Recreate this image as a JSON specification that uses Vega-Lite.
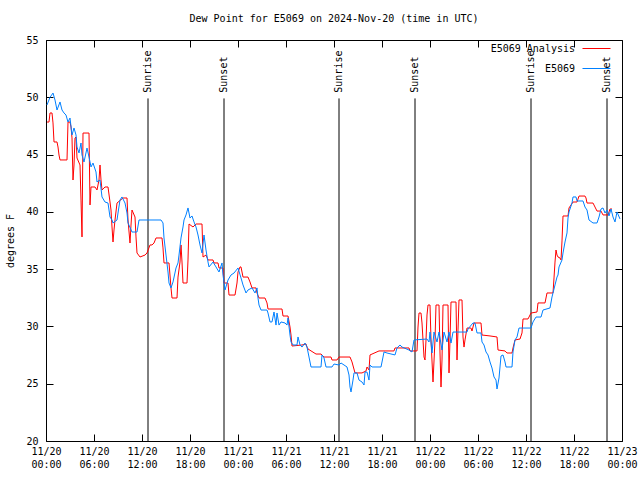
{
  "$schema": "https://vega.github.io/schema/vega-lite/v6.json",
  "width": 576,
  "height": 401,
  "autosize": {"type": "none"},
  "padding": {"left": 46, "top": 40, "right": 18, "bottom": 39},
  "background": "white",
  "title": {"text": "Dew Point for E5069 on 2024-Nov-20 (time in UTC)", "font": "DejaVu Sans Mono", "fontSize": 10, "fontWeight": "normal", "color": "black", "anchor": "middle", "offset": 10},
  "config": {"view": {"stroke": "black", "strokeWidth": 1}, "font": "DejaVu Sans Mono"},
  "datasets": {
    "sun": [
      {"event": "Sunrise", "time": "2024-11-20T12:45:00Z"},
      {"event": "Sunset", "time": "2024-11-20T22:15:00Z"},
      {"event": "Sunrise", "time": "2024-11-21T12:37:30Z"},
      {"event": "Sunset", "time": "2024-11-21T22:07:30Z"},
      {"event": "Sunrise", "time": "2024-11-22T12:37:30Z"},
      {"event": "Sunset", "time": "2024-11-22T22:07:30Z"}
    ],
    "obs": [
      {"series": "E5069 Analysis", "time": "2024-11-20T00:07:30Z", "value": 47.84},
      {"series": "E5069 Analysis", "time": "2024-11-20T00:22:30Z", "value": 47.84},
      {"series": "E5069 Analysis", "time": "2024-11-20T00:30:00Z", "value": 48.63},
      {"series": "E5069 Analysis", "time": "2024-11-20T00:45:00Z", "value": 48.63},
      {"series": "E5069 Analysis", "time": "2024-11-20T00:52:30Z", "value": 47.76},
      {"series": "E5069 Analysis", "time": "2024-11-20T01:00:00Z", "value": 46.10},
      {"series": "E5069 Analysis", "time": "2024-11-20T01:22:30Z", "value": 46.10},
      {"series": "E5069 Analysis", "time": "2024-11-20T01:30:00Z", "value": 45.66},
      {"series": "E5069 Analysis", "time": "2024-11-20T01:37:30Z", "value": 44.96},
      {"series": "E5069 Analysis", "time": "2024-11-20T01:45:00Z", "value": 44.53},
      {"series": "E5069 Analysis", "time": "2024-11-20T02:37:30Z", "value": 44.53},
      {"series": "E5069 Analysis", "time": "2024-11-20T02:45:00Z", "value": 47.84},
      {"series": "E5069 Analysis", "time": "2024-11-20T03:00:00Z", "value": 47.84},
      {"series": "E5069 Analysis", "time": "2024-11-20T03:07:30Z", "value": 47.41},
      {"series": "E5069 Analysis", "time": "2024-11-20T03:15:00Z", "value": 46.45},
      {"series": "E5069 Analysis", "time": "2024-11-20T03:22:30Z", "value": 42.78},
      {"series": "E5069 Analysis", "time": "2024-11-20T03:30:00Z", "value": 44.09},
      {"series": "E5069 Analysis", "time": "2024-11-20T03:37:30Z", "value": 46.45},
      {"series": "E5069 Analysis", "time": "2024-11-20T03:45:00Z", "value": 46.53},
      {"series": "E5069 Analysis", "time": "2024-11-20T03:52:30Z", "value": 44.70},
      {"series": "E5069 Analysis", "time": "2024-11-20T04:15:00Z", "value": 44.09},
      {"series": "E5069 Analysis", "time": "2024-11-20T04:22:30Z", "value": 41.03},
      {"series": "E5069 Analysis", "time": "2024-11-20T04:30:00Z", "value": 37.81},
      {"series": "E5069 Analysis", "time": "2024-11-20T04:37:30Z", "value": 46.88},
      {"series": "E5069 Analysis", "time": "2024-11-20T05:22:30Z", "value": 46.88},
      {"series": "E5069 Analysis", "time": "2024-11-20T05:30:00Z", "value": 40.60},
      {"series": "E5069 Analysis", "time": "2024-11-20T05:37:30Z", "value": 42.17},
      {"series": "E5069 Analysis", "time": "2024-11-20T06:07:30Z", "value": 42.17},
      {"series": "E5069 Analysis", "time": "2024-11-20T06:22:30Z", "value": 41.91},
      {"series": "E5069 Analysis", "time": "2024-11-20T06:37:30Z", "value": 42.78},
      {"series": "E5069 Analysis", "time": "2024-11-20T06:45:00Z", "value": 44.09},
      {"series": "E5069 Analysis", "time": "2024-11-20T06:52:30Z", "value": 42.78},
      {"series": "E5069 Analysis", "time": "2024-11-20T07:00:00Z", "value": 41.91},
      {"series": "E5069 Analysis", "time": "2024-11-20T07:22:30Z", "value": 42.17},
      {"series": "E5069 Analysis", "time": "2024-11-20T07:45:00Z", "value": 42.17},
      {"series": "E5069 Analysis", "time": "2024-11-20T08:00:00Z", "value": 40.86},
      {"series": "E5069 Analysis", "time": "2024-11-20T08:07:30Z", "value": 40.16},
      {"series": "E5069 Analysis", "time": "2024-11-20T08:15:00Z", "value": 38.68},
      {"series": "E5069 Analysis", "time": "2024-11-20T08:22:30Z", "value": 37.37},
      {"series": "E5069 Analysis", "time": "2024-11-20T08:30:00Z", "value": 38.42},
      {"series": "E5069 Analysis", "time": "2024-11-20T08:37:30Z", "value": 39.29},
      {"series": "E5069 Analysis", "time": "2024-11-20T08:52:30Z", "value": 40.77},
      {"series": "E5069 Analysis", "time": "2024-11-20T09:37:30Z", "value": 41.21},
      {"series": "E5069 Analysis", "time": "2024-11-20T10:07:30Z", "value": 41.21},
      {"series": "E5069 Analysis", "time": "2024-11-20T10:15:00Z", "value": 39.29},
      {"series": "E5069 Analysis", "time": "2024-11-20T10:30:00Z", "value": 37.28},
      {"series": "E5069 Analysis", "time": "2024-11-20T10:37:30Z", "value": 38.85},
      {"series": "E5069 Analysis", "time": "2024-11-20T10:45:00Z", "value": 40.16},
      {"series": "E5069 Analysis", "time": "2024-11-20T11:07:30Z", "value": 39.55},
      {"series": "E5069 Analysis", "time": "2024-11-20T11:15:00Z", "value": 37.81},
      {"series": "E5069 Analysis", "time": "2024-11-20T11:22:30Z", "value": 36.41},
      {"series": "E5069 Analysis", "time": "2024-11-20T11:45:00Z", "value": 36.06},
      {"series": "E5069 Analysis", "time": "2024-11-20T12:22:30Z", "value": 36.23},
      {"series": "E5069 Analysis", "time": "2024-11-20T12:37:30Z", "value": 36.41},
      {"series": "E5069 Analysis", "time": "2024-11-20T13:00:00Z", "value": 37.11},
      {"series": "E5069 Analysis", "time": "2024-11-20T13:15:00Z", "value": 37.11},
      {"series": "E5069 Analysis", "time": "2024-11-20T13:30:00Z", "value": 37.28},
      {"series": "E5069 Analysis", "time": "2024-11-20T13:45:00Z", "value": 37.72},
      {"series": "E5069 Analysis", "time": "2024-11-20T14:30:00Z", "value": 37.72},
      {"series": "E5069 Analysis", "time": "2024-11-20T14:37:30Z", "value": 36.85},
      {"series": "E5069 Analysis", "time": "2024-11-20T14:45:00Z", "value": 35.54},
      {"series": "E5069 Analysis", "time": "2024-11-20T15:22:30Z", "value": 35.54},
      {"series": "E5069 Analysis", "time": "2024-11-20T15:37:30Z", "value": 33.36},
      {"series": "E5069 Analysis", "time": "2024-11-20T15:45:00Z", "value": 32.48},
      {"series": "E5069 Analysis", "time": "2024-11-20T16:22:30Z", "value": 32.48},
      {"series": "E5069 Analysis", "time": "2024-11-20T16:30:00Z", "value": 34.31},
      {"series": "E5069 Analysis", "time": "2024-11-20T16:45:00Z", "value": 35.62},
      {"series": "E5069 Analysis", "time": "2024-11-20T16:52:30Z", "value": 37.11},
      {"series": "E5069 Analysis", "time": "2024-11-20T17:00:00Z", "value": 35.62},
      {"series": "E5069 Analysis", "time": "2024-11-20T17:07:30Z", "value": 33.79},
      {"series": "E5069 Analysis", "time": "2024-11-20T17:37:30Z", "value": 33.79},
      {"series": "E5069 Analysis", "time": "2024-11-20T17:45:00Z", "value": 35.80},
      {"series": "E5069 Analysis", "time": "2024-11-20T17:52:30Z", "value": 38.94},
      {"series": "E5069 Analysis", "time": "2024-11-20T18:22:30Z", "value": 38.68},
      {"series": "E5069 Analysis", "time": "2024-11-20T18:45:00Z", "value": 38.94},
      {"series": "E5069 Analysis", "time": "2024-11-20T19:30:00Z", "value": 38.94},
      {"series": "E5069 Analysis", "time": "2024-11-20T19:37:30Z", "value": 36.06},
      {"series": "E5069 Analysis", "time": "2024-11-20T20:00:00Z", "value": 36.23},
      {"series": "E5069 Analysis", "time": "2024-11-20T20:15:00Z", "value": 35.80},
      {"series": "E5069 Analysis", "time": "2024-11-20T20:52:30Z", "value": 35.80},
      {"series": "E5069 Analysis", "time": "2024-11-20T21:00:00Z", "value": 35.54},
      {"series": "E5069 Analysis", "time": "2024-11-20T21:30:00Z", "value": 35.54},
      {"series": "E5069 Analysis", "time": "2024-11-20T21:37:30Z", "value": 35.10},
      {"series": "E5069 Analysis", "time": "2024-11-20T22:07:30Z", "value": 35.10},
      {"series": "E5069 Analysis", "time": "2024-11-20T22:15:00Z", "value": 33.79},
      {"series": "E5069 Analysis", "time": "2024-11-20T22:45:00Z", "value": 33.79},
      {"series": "E5069 Analysis", "time": "2024-11-20T22:52:30Z", "value": 32.74},
      {"series": "E5069 Analysis", "time": "2024-11-20T23:37:30Z", "value": 32.74},
      {"series": "E5069 Analysis", "time": "2024-11-20T23:52:30Z", "value": 33.79},
      {"series": "E5069 Analysis", "time": "2024-11-21T00:00:00Z", "value": 34.75},
      {"series": "E5069 Analysis", "time": "2024-11-21T00:15:00Z", "value": 35.19},
      {"series": "E5069 Analysis", "time": "2024-11-21T00:22:30Z", "value": 35.19},
      {"series": "E5069 Analysis", "time": "2024-11-21T00:37:30Z", "value": 34.31},
      {"series": "E5069 Analysis", "time": "2024-11-21T01:15:00Z", "value": 34.31},
      {"series": "E5069 Analysis", "time": "2024-11-21T01:30:00Z", "value": 33.88},
      {"series": "E5069 Analysis", "time": "2024-11-21T01:45:00Z", "value": 33.36},
      {"series": "E5069 Analysis", "time": "2024-11-21T02:15:00Z", "value": 33.36},
      {"series": "E5069 Analysis", "time": "2024-11-21T02:22:30Z", "value": 32.92},
      {"series": "E5069 Analysis", "time": "2024-11-21T02:37:30Z", "value": 32.48},
      {"series": "E5069 Analysis", "time": "2024-11-21T03:22:30Z", "value": 32.48},
      {"series": "E5069 Analysis", "time": "2024-11-21T03:37:30Z", "value": 32.05},
      {"series": "E5069 Analysis", "time": "2024-11-21T03:45:00Z", "value": 31.52},
      {"series": "E5069 Analysis", "time": "2024-11-21T05:30:00Z", "value": 31.52},
      {"series": "E5069 Analysis", "time": "2024-11-21T05:37:30Z", "value": 30.91},
      {"series": "E5069 Analysis", "time": "2024-11-21T06:15:00Z", "value": 30.91},
      {"series": "E5069 Analysis", "time": "2024-11-21T06:30:00Z", "value": 29.95},
      {"series": "E5069 Analysis", "time": "2024-11-21T06:37:30Z", "value": 29.25},
      {"series": "E5069 Analysis", "time": "2024-11-21T06:45:00Z", "value": 28.29},
      {"series": "E5069 Analysis", "time": "2024-11-21T08:00:00Z", "value": 28.38},
      {"series": "E5069 Analysis", "time": "2024-11-21T08:30:00Z", "value": 28.47},
      {"series": "E5069 Analysis", "time": "2024-11-21T08:37:30Z", "value": 28.20},
      {"series": "E5069 Analysis", "time": "2024-11-21T08:45:00Z", "value": 28.03},
      {"series": "E5069 Analysis", "time": "2024-11-21T09:45:00Z", "value": 27.59},
      {"series": "E5069 Analysis", "time": "2024-11-21T10:22:30Z", "value": 27.59},
      {"series": "E5069 Analysis", "time": "2024-11-21T10:45:00Z", "value": 27.33},
      {"series": "E5069 Analysis", "time": "2024-11-21T11:37:30Z", "value": 27.33},
      {"series": "E5069 Analysis", "time": "2024-11-21T11:45:00Z", "value": 27.07},
      {"series": "E5069 Analysis", "time": "2024-11-21T12:22:30Z", "value": 27.07},
      {"series": "E5069 Analysis", "time": "2024-11-21T12:37:30Z", "value": 27.33},
      {"series": "E5069 Analysis", "time": "2024-11-21T14:00:00Z", "value": 27.33},
      {"series": "E5069 Analysis", "time": "2024-11-21T14:15:00Z", "value": 26.90},
      {"series": "E5069 Analysis", "time": "2024-11-21T14:37:30Z", "value": 25.94},
      {"series": "E5069 Analysis", "time": "2024-11-21T15:30:00Z", "value": 25.94},
      {"series": "E5069 Analysis", "time": "2024-11-21T16:00:00Z", "value": 26.11},
      {"series": "E5069 Analysis", "time": "2024-11-21T16:07:30Z", "value": 26.46},
      {"series": "E5069 Analysis", "time": "2024-11-21T16:22:30Z", "value": 26.20},
      {"series": "E5069 Analysis", "time": "2024-11-21T16:30:00Z", "value": 27.51},
      {"series": "E5069 Analysis", "time": "2024-11-21T17:37:30Z", "value": 27.86},
      {"series": "E5069 Analysis", "time": "2024-11-21T19:30:00Z", "value": 27.86},
      {"series": "E5069 Analysis", "time": "2024-11-21T19:37:30Z", "value": 28.12},
      {"series": "E5069 Analysis", "time": "2024-11-21T21:22:30Z", "value": 28.12},
      {"series": "E5069 Analysis", "time": "2024-11-21T21:30:00Z", "value": 27.86},
      {"series": "E5069 Analysis", "time": "2024-11-21T22:22:30Z", "value": 27.86},
      {"series": "E5069 Analysis", "time": "2024-11-21T22:30:00Z", "value": 29.95},
      {"series": "E5069 Analysis", "time": "2024-11-21T22:37:30Z", "value": 31.17},
      {"series": "E5069 Analysis", "time": "2024-11-21T22:52:30Z", "value": 31.17},
      {"series": "E5069 Analysis", "time": "2024-11-21T23:00:00Z", "value": 30.30},
      {"series": "E5069 Analysis", "time": "2024-11-21T23:15:00Z", "value": 27.33},
      {"series": "E5069 Analysis", "time": "2024-11-21T23:22:30Z", "value": 27.07},
      {"series": "E5069 Analysis", "time": "2024-11-21T23:30:00Z", "value": 28.82},
      {"series": "E5069 Analysis", "time": "2024-11-21T23:37:30Z", "value": 31.00},
      {"series": "E5069 Analysis", "time": "2024-11-21T23:45:00Z", "value": 31.87},
      {"series": "E5069 Analysis", "time": "2024-11-22T00:00:00Z", "value": 31.87},
      {"series": "E5069 Analysis", "time": "2024-11-22T00:07:30Z", "value": 28.82},
      {"series": "E5069 Analysis", "time": "2024-11-22T00:22:30Z", "value": 25.15},
      {"series": "E5069 Analysis", "time": "2024-11-22T00:37:30Z", "value": 28.82},
      {"series": "E5069 Analysis", "time": "2024-11-22T00:45:00Z", "value": 31.87},
      {"series": "E5069 Analysis", "time": "2024-11-22T01:07:30Z", "value": 31.87},
      {"series": "E5069 Analysis", "time": "2024-11-22T01:15:00Z", "value": 27.68},
      {"series": "E5069 Analysis", "time": "2024-11-22T01:22:30Z", "value": 24.71},
      {"series": "E5069 Analysis", "time": "2024-11-22T01:30:00Z", "value": 27.07},
      {"series": "E5069 Analysis", "time": "2024-11-22T01:37:30Z", "value": 31.87},
      {"series": "E5069 Analysis", "time": "2024-11-22T02:15:00Z", "value": 31.87},
      {"series": "E5069 Analysis", "time": "2024-11-22T02:22:30Z", "value": 25.94},
      {"series": "E5069 Analysis", "time": "2024-11-22T02:30:00Z", "value": 28.82},
      {"series": "E5069 Analysis", "time": "2024-11-22T02:37:30Z", "value": 32.13},
      {"series": "E5069 Analysis", "time": "2024-11-22T03:15:00Z", "value": 32.13},
      {"series": "E5069 Analysis", "time": "2024-11-22T03:22:30Z", "value": 27.07},
      {"series": "E5069 Analysis", "time": "2024-11-22T03:30:00Z", "value": 29.69},
      {"series": "E5069 Analysis", "time": "2024-11-22T03:37:30Z", "value": 32.31},
      {"series": "E5069 Analysis", "time": "2024-11-22T04:00:00Z", "value": 32.31},
      {"series": "E5069 Analysis", "time": "2024-11-22T04:07:30Z", "value": 29.08},
      {"series": "E5069 Analysis", "time": "2024-11-22T04:15:00Z", "value": 28.20},
      {"series": "E5069 Analysis", "time": "2024-11-22T04:22:30Z", "value": 28.82},
      {"series": "E5069 Analysis", "time": "2024-11-22T04:37:30Z", "value": 29.86},
      {"series": "E5069 Analysis", "time": "2024-11-22T05:07:30Z", "value": 29.86},
      {"series": "E5069 Analysis", "time": "2024-11-22T05:15:00Z", "value": 29.60},
      {"series": "E5069 Analysis", "time": "2024-11-22T05:30:00Z", "value": 30.30},
      {"series": "E5069 Analysis", "time": "2024-11-22T06:22:30Z", "value": 30.30},
      {"series": "E5069 Analysis", "time": "2024-11-22T06:30:00Z", "value": 29.25},
      {"series": "E5069 Analysis", "time": "2024-11-22T07:30:00Z", "value": 29.17},
      {"series": "E5069 Analysis", "time": "2024-11-22T08:22:30Z", "value": 29.08},
      {"series": "E5069 Analysis", "time": "2024-11-22T08:30:00Z", "value": 27.94},
      {"series": "E5069 Analysis", "time": "2024-11-22T09:22:30Z", "value": 27.86},
      {"series": "E5069 Analysis", "time": "2024-11-22T09:37:30Z", "value": 27.68},
      {"series": "E5069 Analysis", "time": "2024-11-22T10:15:00Z", "value": 27.68},
      {"series": "E5069 Analysis", "time": "2024-11-22T10:22:30Z", "value": 28.12},
      {"series": "E5069 Analysis", "time": "2024-11-22T10:37:30Z", "value": 28.82},
      {"series": "E5069 Analysis", "time": "2024-11-22T11:15:00Z", "value": 28.90},
      {"series": "E5069 Analysis", "time": "2024-11-22T11:30:00Z", "value": 29.43},
      {"series": "E5069 Analysis", "time": "2024-11-22T11:37:30Z", "value": 30.65},
      {"series": "E5069 Analysis", "time": "2024-11-22T12:15:00Z", "value": 30.65},
      {"series": "E5069 Analysis", "time": "2024-11-22T12:22:30Z", "value": 30.82},
      {"series": "E5069 Analysis", "time": "2024-11-22T12:37:30Z", "value": 31.17},
      {"series": "E5069 Analysis", "time": "2024-11-22T13:22:30Z", "value": 31.26},
      {"series": "E5069 Analysis", "time": "2024-11-22T13:30:00Z", "value": 32.05},
      {"series": "E5069 Analysis", "time": "2024-11-22T14:22:30Z", "value": 32.05},
      {"series": "E5069 Analysis", "time": "2024-11-22T14:37:30Z", "value": 32.92},
      {"series": "E5069 Analysis", "time": "2024-11-22T15:22:30Z", "value": 32.92},
      {"series": "E5069 Analysis", "time": "2024-11-22T15:30:00Z", "value": 34.23},
      {"series": "E5069 Analysis", "time": "2024-11-22T15:37:30Z", "value": 35.62},
      {"series": "E5069 Analysis", "time": "2024-11-22T15:45:00Z", "value": 36.67},
      {"series": "E5069 Analysis", "time": "2024-11-22T15:52:30Z", "value": 36.23},
      {"series": "E5069 Analysis", "time": "2024-11-22T16:00:00Z", "value": 36.06},
      {"series": "E5069 Analysis", "time": "2024-11-22T16:15:00Z", "value": 35.97},
      {"series": "E5069 Analysis", "time": "2024-11-22T16:22:30Z", "value": 35.80},
      {"series": "E5069 Analysis", "time": "2024-11-22T16:30:00Z", "value": 37.46},
      {"series": "E5069 Analysis", "time": "2024-11-22T16:37:30Z", "value": 39.64},
      {"series": "E5069 Analysis", "time": "2024-11-22T17:15:00Z", "value": 39.64},
      {"series": "E5069 Analysis", "time": "2024-11-22T17:22:30Z", "value": 40.34},
      {"series": "E5069 Analysis", "time": "2024-11-22T17:37:30Z", "value": 40.60},
      {"series": "E5069 Analysis", "time": "2024-11-22T17:52:30Z", "value": 40.86},
      {"series": "E5069 Analysis", "time": "2024-11-22T18:22:30Z", "value": 40.86},
      {"series": "E5069 Analysis", "time": "2024-11-22T18:30:00Z", "value": 41.12},
      {"series": "E5069 Analysis", "time": "2024-11-22T18:37:30Z", "value": 41.38},
      {"series": "E5069 Analysis", "time": "2024-11-22T19:22:30Z", "value": 41.38},
      {"series": "E5069 Analysis", "time": "2024-11-22T19:30:00Z", "value": 41.21},
      {"series": "E5069 Analysis", "time": "2024-11-22T19:37:30Z", "value": 40.77},
      {"series": "E5069 Analysis", "time": "2024-11-22T20:22:30Z", "value": 40.77},
      {"series": "E5069 Analysis", "time": "2024-11-22T20:37:30Z", "value": 40.42},
      {"series": "E5069 Analysis", "time": "2024-11-22T20:52:30Z", "value": 40.07},
      {"series": "E5069 Analysis", "time": "2024-11-22T21:22:30Z", "value": 40.07},
      {"series": "E5069 Analysis", "time": "2024-11-22T21:37:30Z", "value": 39.73},
      {"series": "E5069 Analysis", "time": "2024-11-22T22:15:00Z", "value": 39.73},
      {"series": "E5069 Analysis", "time": "2024-11-22T22:30:00Z", "value": 40.25},
      {"series": "E5069 Analysis", "time": "2024-11-22T22:45:00Z", "value": 40.25},
      {"series": "E5069", "time": "2024-11-20T00:07:30Z", "value": 49.33},
      {"series": "E5069", "time": "2024-11-20T00:30:00Z", "value": 50.00},
      {"series": "E5069", "time": "2024-11-20T00:52:30Z", "value": 50.37},
      {"series": "E5069", "time": "2024-11-20T01:07:30Z", "value": 49.76},
      {"series": "E5069", "time": "2024-11-20T01:22:30Z", "value": 48.89},
      {"series": "E5069", "time": "2024-11-20T01:45:00Z", "value": 49.59},
      {"series": "E5069", "time": "2024-11-20T02:00:00Z", "value": 48.89},
      {"series": "E5069", "time": "2024-11-20T02:15:00Z", "value": 48.63},
      {"series": "E5069", "time": "2024-11-20T02:30:00Z", "value": 48.45},
      {"series": "E5069", "time": "2024-11-20T02:45:00Z", "value": 47.84},
      {"series": "E5069", "time": "2024-11-20T03:00:00Z", "value": 48.19},
      {"series": "E5069", "time": "2024-11-20T03:15:00Z", "value": 46.71},
      {"series": "E5069", "time": "2024-11-20T03:30:00Z", "value": 47.32},
      {"series": "E5069", "time": "2024-11-20T03:45:00Z", "value": 46.71},
      {"series": "E5069", "time": "2024-11-20T03:52:30Z", "value": 45.66},
      {"series": "E5069", "time": "2024-11-20T04:07:30Z", "value": 45.14},
      {"series": "E5069", "time": "2024-11-20T04:22:30Z", "value": 46.01},
      {"series": "E5069", "time": "2024-11-20T04:30:00Z", "value": 44.96},
      {"series": "E5069", "time": "2024-11-20T04:45:00Z", "value": 44.35},
      {"series": "E5069", "time": "2024-11-20T05:07:30Z", "value": 45.57},
      {"series": "E5069", "time": "2024-11-20T05:22:30Z", "value": 44.79},
      {"series": "E5069", "time": "2024-11-20T05:37:30Z", "value": 43.92},
      {"series": "E5069", "time": "2024-11-20T05:52:30Z", "value": 44.26},
      {"series": "E5069", "time": "2024-11-20T06:15:00Z", "value": 43.48},
      {"series": "E5069", "time": "2024-11-20T06:22:30Z", "value": 42.61},
      {"series": "E5069", "time": "2024-11-20T06:45:00Z", "value": 42.78},
      {"series": "E5069", "time": "2024-11-20T07:00:00Z", "value": 41.30},
      {"series": "E5069", "time": "2024-11-20T07:22:30Z", "value": 40.86},
      {"series": "E5069", "time": "2024-11-20T07:45:00Z", "value": 40.77},
      {"series": "E5069", "time": "2024-11-20T08:00:00Z", "value": 39.55},
      {"series": "E5069", "time": "2024-11-20T08:15:00Z", "value": 39.29},
      {"series": "E5069", "time": "2024-11-20T08:22:30Z", "value": 39.03},
      {"series": "E5069", "time": "2024-11-20T08:52:30Z", "value": 39.29},
      {"series": "E5069", "time": "2024-11-20T09:00:00Z", "value": 39.90},
      {"series": "E5069", "time": "2024-11-20T09:15:00Z", "value": 41.03},
      {"series": "E5069", "time": "2024-11-20T09:30:00Z", "value": 41.30},
      {"series": "E5069", "time": "2024-11-20T09:52:30Z", "value": 40.77},
      {"series": "E5069", "time": "2024-11-20T10:07:30Z", "value": 39.90},
      {"series": "E5069", "time": "2024-11-20T10:15:00Z", "value": 39.03},
      {"series": "E5069", "time": "2024-11-20T10:45:00Z", "value": 38.24},
      {"series": "E5069", "time": "2024-11-20T11:22:30Z", "value": 38.24},
      {"series": "E5069", "time": "2024-11-20T11:37:30Z", "value": 39.29},
      {"series": "E5069", "time": "2024-11-20T14:22:30Z", "value": 39.29},
      {"series": "E5069", "time": "2024-11-20T14:37:30Z", "value": 39.03},
      {"series": "E5069", "time": "2024-11-20T14:45:00Z", "value": 37.72},
      {"series": "E5069", "time": "2024-11-20T15:00:00Z", "value": 36.23},
      {"series": "E5069", "time": "2024-11-20T15:15:00Z", "value": 34.75},
      {"series": "E5069", "time": "2024-11-20T15:22:30Z", "value": 33.79},
      {"series": "E5069", "time": "2024-11-20T15:37:30Z", "value": 33.36},
      {"series": "E5069", "time": "2024-11-20T15:52:30Z", "value": 33.88},
      {"series": "E5069", "time": "2024-11-20T16:15:00Z", "value": 35.10},
      {"series": "E5069", "time": "2024-11-20T16:30:00Z", "value": 35.54},
      {"series": "E5069", "time": "2024-11-20T16:37:30Z", "value": 36.23},
      {"series": "E5069", "time": "2024-11-20T16:52:30Z", "value": 37.72},
      {"series": "E5069", "time": "2024-11-20T17:07:30Z", "value": 38.68},
      {"series": "E5069", "time": "2024-11-20T17:15:00Z", "value": 39.29},
      {"series": "E5069", "time": "2024-11-20T17:30:00Z", "value": 39.73},
      {"series": "E5069", "time": "2024-11-20T17:45:00Z", "value": 40.34},
      {"series": "E5069", "time": "2024-11-20T18:00:00Z", "value": 39.46},
      {"series": "E5069", "time": "2024-11-20T18:15:00Z", "value": 39.64},
      {"series": "E5069", "time": "2024-11-20T18:30:00Z", "value": 39.12},
      {"series": "E5069", "time": "2024-11-20T18:45:00Z", "value": 38.68},
      {"series": "E5069", "time": "2024-11-20T19:00:00Z", "value": 37.98},
      {"series": "E5069", "time": "2024-11-20T19:15:00Z", "value": 37.11},
      {"series": "E5069", "time": "2024-11-20T19:30:00Z", "value": 36.41},
      {"series": "E5069", "time": "2024-11-20T19:45:00Z", "value": 37.98},
      {"series": "E5069", "time": "2024-11-20T20:00:00Z", "value": 36.67},
      {"series": "E5069", "time": "2024-11-20T20:15:00Z", "value": 35.62},
      {"series": "E5069", "time": "2024-11-20T20:22:30Z", "value": 35.19},
      {"series": "E5069", "time": "2024-11-20T20:52:30Z", "value": 35.62},
      {"series": "E5069", "time": "2024-11-20T21:15:00Z", "value": 35.19},
      {"series": "E5069", "time": "2024-11-20T21:37:30Z", "value": 34.75},
      {"series": "E5069", "time": "2024-11-20T22:00:00Z", "value": 35.54},
      {"series": "E5069", "time": "2024-11-20T22:07:30Z", "value": 34.49},
      {"series": "E5069", "time": "2024-11-20T22:22:30Z", "value": 33.18},
      {"series": "E5069", "time": "2024-11-20T22:45:00Z", "value": 34.05},
      {"series": "E5069", "time": "2024-11-20T23:07:30Z", "value": 34.49},
      {"series": "E5069", "time": "2024-11-20T23:30:00Z", "value": 34.66},
      {"series": "E5069", "time": "2024-11-21T00:00:00Z", "value": 35.10},
      {"series": "E5069", "time": "2024-11-21T00:22:30Z", "value": 34.23},
      {"series": "E5069", "time": "2024-11-21T00:37:30Z", "value": 33.62},
      {"series": "E5069", "time": "2024-11-21T01:00:00Z", "value": 32.92},
      {"series": "E5069", "time": "2024-11-21T01:15:00Z", "value": 33.18},
      {"series": "E5069", "time": "2024-11-21T01:45:00Z", "value": 33.36},
      {"series": "E5069", "time": "2024-11-21T02:07:30Z", "value": 32.92},
      {"series": "E5069", "time": "2024-11-21T02:22:30Z", "value": 33.36},
      {"series": "E5069", "time": "2024-11-21T02:30:00Z", "value": 32.48},
      {"series": "E5069", "time": "2024-11-21T02:37:30Z", "value": 31.87},
      {"series": "E5069", "time": "2024-11-21T02:52:30Z", "value": 31.43},
      {"series": "E5069", "time": "2024-11-21T03:37:30Z", "value": 31.43},
      {"series": "E5069", "time": "2024-11-21T03:45:00Z", "value": 31.17},
      {"series": "E5069", "time": "2024-11-21T04:00:00Z", "value": 30.39},
      {"series": "E5069", "time": "2024-11-21T04:15:00Z", "value": 30.39},
      {"series": "E5069", "time": "2024-11-21T04:30:00Z", "value": 31.26},
      {"series": "E5069", "time": "2024-11-21T04:45:00Z", "value": 30.12},
      {"series": "E5069", "time": "2024-11-21T04:52:30Z", "value": 31.17},
      {"series": "E5069", "time": "2024-11-21T05:07:30Z", "value": 30.12},
      {"series": "E5069", "time": "2024-11-21T05:22:30Z", "value": 30.39},
      {"series": "E5069", "time": "2024-11-21T05:52:30Z", "value": 30.30},
      {"series": "E5069", "time": "2024-11-21T06:07:30Z", "value": 30.12},
      {"series": "E5069", "time": "2024-11-21T06:15:00Z", "value": 30.74},
      {"series": "E5069", "time": "2024-11-21T06:30:00Z", "value": 29.25},
      {"series": "E5069", "time": "2024-11-21T06:37:30Z", "value": 28.64},
      {"series": "E5069", "time": "2024-11-21T06:52:30Z", "value": 28.38},
      {"series": "E5069", "time": "2024-11-21T07:22:30Z", "value": 28.38},
      {"series": "E5069", "time": "2024-11-21T07:30:00Z", "value": 29.08},
      {"series": "E5069", "time": "2024-11-21T07:45:00Z", "value": 28.38},
      {"series": "E5069", "time": "2024-11-21T08:00:00Z", "value": 28.20},
      {"series": "E5069", "time": "2024-11-21T08:22:30Z", "value": 28.55},
      {"series": "E5069", "time": "2024-11-21T08:37:30Z", "value": 28.20},
      {"series": "E5069", "time": "2024-11-21T08:52:30Z", "value": 27.33},
      {"series": "E5069", "time": "2024-11-21T09:07:30Z", "value": 26.46},
      {"series": "E5069", "time": "2024-11-21T10:22:30Z", "value": 26.46},
      {"series": "E5069", "time": "2024-11-21T10:30:00Z", "value": 27.51},
      {"series": "E5069", "time": "2024-11-21T10:45:00Z", "value": 27.25},
      {"series": "E5069", "time": "2024-11-21T11:00:00Z", "value": 26.46},
      {"series": "E5069", "time": "2024-11-21T11:45:00Z", "value": 26.46},
      {"series": "E5069", "time": "2024-11-21T12:00:00Z", "value": 26.72},
      {"series": "E5069", "time": "2024-11-21T12:37:30Z", "value": 26.63},
      {"series": "E5069", "time": "2024-11-21T12:52:30Z", "value": 26.81},
      {"series": "E5069", "time": "2024-11-21T13:37:30Z", "value": 26.46},
      {"series": "E5069", "time": "2024-11-21T13:52:30Z", "value": 25.76},
      {"series": "E5069", "time": "2024-11-21T14:00:00Z", "value": 24.71},
      {"series": "E5069", "time": "2024-11-21T14:07:30Z", "value": 24.28},
      {"series": "E5069", "time": "2024-11-21T14:22:30Z", "value": 25.32},
      {"series": "E5069", "time": "2024-11-21T14:30:00Z", "value": 25.94},
      {"series": "E5069", "time": "2024-11-21T14:52:30Z", "value": 25.94},
      {"series": "E5069", "time": "2024-11-21T15:07:30Z", "value": 25.32},
      {"series": "E5069", "time": "2024-11-21T15:30:00Z", "value": 25.15},
      {"series": "E5069", "time": "2024-11-21T15:45:00Z", "value": 24.89},
      {"series": "E5069", "time": "2024-11-21T15:52:30Z", "value": 26.02},
      {"series": "E5069", "time": "2024-11-21T16:07:30Z", "value": 26.02},
      {"series": "E5069", "time": "2024-11-21T16:22:30Z", "value": 25.32},
      {"series": "E5069", "time": "2024-11-21T16:30:00Z", "value": 26.63},
      {"series": "E5069", "time": "2024-11-21T16:45:00Z", "value": 26.46},
      {"series": "E5069", "time": "2024-11-21T17:52:30Z", "value": 26.46},
      {"series": "E5069", "time": "2024-11-21T18:07:30Z", "value": 27.33},
      {"series": "E5069", "time": "2024-11-21T18:15:00Z", "value": 27.77},
      {"series": "E5069", "time": "2024-11-21T18:37:30Z", "value": 27.68},
      {"series": "E5069", "time": "2024-11-21T19:37:30Z", "value": 27.51},
      {"series": "E5069", "time": "2024-11-21T19:52:30Z", "value": 28.12},
      {"series": "E5069", "time": "2024-11-21T20:15:00Z", "value": 28.38},
      {"series": "E5069", "time": "2024-11-21T20:30:00Z", "value": 28.20},
      {"series": "E5069", "time": "2024-11-21T21:22:30Z", "value": 27.94},
      {"series": "E5069", "time": "2024-11-21T21:45:00Z", "value": 27.77},
      {"series": "E5069", "time": "2024-11-21T22:00:00Z", "value": 28.82},
      {"series": "E5069", "time": "2024-11-21T23:37:30Z", "value": 28.90},
      {"series": "E5069", "time": "2024-11-21T23:52:30Z", "value": 28.64},
      {"series": "E5069", "time": "2024-11-22T00:00:00Z", "value": 29.51},
      {"series": "E5069", "time": "2024-11-22T00:15:00Z", "value": 27.68},
      {"series": "E5069", "time": "2024-11-22T00:30:00Z", "value": 29.51},
      {"series": "E5069", "time": "2024-11-22T00:52:30Z", "value": 28.64},
      {"series": "E5069", "time": "2024-11-22T01:07:30Z", "value": 29.51},
      {"series": "E5069", "time": "2024-11-22T01:30:00Z", "value": 27.94},
      {"series": "E5069", "time": "2024-11-22T01:45:00Z", "value": 29.51},
      {"series": "E5069", "time": "2024-11-22T02:07:30Z", "value": 28.64},
      {"series": "E5069", "time": "2024-11-22T02:22:30Z", "value": 29.51},
      {"series": "E5069", "time": "2024-11-22T02:37:30Z", "value": 28.55},
      {"series": "E5069", "time": "2024-11-22T02:52:30Z", "value": 29.51},
      {"series": "E5069", "time": "2024-11-22T04:37:30Z", "value": 29.51},
      {"series": "E5069", "time": "2024-11-22T04:45:00Z", "value": 29.78},
      {"series": "E5069", "time": "2024-11-22T05:22:30Z", "value": 30.30},
      {"series": "E5069", "time": "2024-11-22T05:37:30Z", "value": 30.30},
      {"series": "E5069", "time": "2024-11-22T05:52:30Z", "value": 29.43},
      {"series": "E5069", "time": "2024-11-22T06:22:30Z", "value": 29.43},
      {"series": "E5069", "time": "2024-11-22T06:30:00Z", "value": 28.64},
      {"series": "E5069", "time": "2024-11-22T06:45:00Z", "value": 28.38},
      {"series": "E5069", "time": "2024-11-22T07:00:00Z", "value": 27.77},
      {"series": "E5069", "time": "2024-11-22T07:15:00Z", "value": 27.51},
      {"series": "E5069", "time": "2024-11-22T07:30:00Z", "value": 26.90},
      {"series": "E5069", "time": "2024-11-22T07:45:00Z", "value": 26.37},
      {"series": "E5069", "time": "2024-11-22T08:00:00Z", "value": 25.59},
      {"series": "E5069", "time": "2024-11-22T08:15:00Z", "value": 25.32},
      {"series": "E5069", "time": "2024-11-22T08:22:30Z", "value": 24.54},
      {"series": "E5069", "time": "2024-11-22T08:37:30Z", "value": 25.50},
      {"series": "E5069", "time": "2024-11-22T08:45:00Z", "value": 26.46},
      {"series": "E5069", "time": "2024-11-22T08:52:30Z", "value": 27.42},
      {"series": "E5069", "time": "2024-11-22T09:07:30Z", "value": 27.51},
      {"series": "E5069", "time": "2024-11-22T09:22:30Z", "value": 26.90},
      {"series": "E5069", "time": "2024-11-22T09:30:00Z", "value": 26.46},
      {"series": "E5069", "time": "2024-11-22T10:15:00Z", "value": 26.46},
      {"series": "E5069", "time": "2024-11-22T10:22:30Z", "value": 27.77},
      {"series": "E5069", "time": "2024-11-22T10:37:30Z", "value": 28.82},
      {"series": "E5069", "time": "2024-11-22T10:52:30Z", "value": 29.08},
      {"series": "E5069", "time": "2024-11-22T11:07:30Z", "value": 29.86},
      {"series": "E5069", "time": "2024-11-22T12:37:30Z", "value": 29.86},
      {"series": "E5069", "time": "2024-11-22T12:52:30Z", "value": 30.39},
      {"series": "E5069", "time": "2024-11-22T13:15:00Z", "value": 30.82},
      {"series": "E5069", "time": "2024-11-22T13:52:30Z", "value": 30.82},
      {"series": "E5069", "time": "2024-11-22T14:07:30Z", "value": 31.43},
      {"series": "E5069", "time": "2024-11-22T15:00:00Z", "value": 31.61},
      {"series": "E5069", "time": "2024-11-22T15:15:00Z", "value": 32.57},
      {"series": "E5069", "time": "2024-11-22T15:37:30Z", "value": 33.62},
      {"series": "E5069", "time": "2024-11-22T15:52:30Z", "value": 34.31},
      {"series": "E5069", "time": "2024-11-22T16:00:00Z", "value": 34.49},
      {"series": "E5069", "time": "2024-11-22T16:07:30Z", "value": 35.19},
      {"series": "E5069", "time": "2024-11-22T16:30:00Z", "value": 35.80},
      {"series": "E5069", "time": "2024-11-22T16:37:30Z", "value": 36.41},
      {"series": "E5069", "time": "2024-11-22T16:52:30Z", "value": 37.37},
      {"series": "E5069", "time": "2024-11-22T17:07:30Z", "value": 38.16},
      {"series": "E5069", "time": "2024-11-22T17:15:00Z", "value": 39.46},
      {"series": "E5069", "time": "2024-11-22T17:22:30Z", "value": 39.99},
      {"series": "E5069", "time": "2024-11-22T17:45:00Z", "value": 40.77},
      {"series": "E5069", "time": "2024-11-22T17:52:30Z", "value": 41.30},
      {"series": "E5069", "time": "2024-11-22T18:15:00Z", "value": 41.30},
      {"series": "E5069", "time": "2024-11-22T18:22:30Z", "value": 40.95},
      {"series": "E5069", "time": "2024-11-22T19:07:30Z", "value": 40.95},
      {"series": "E5069", "time": "2024-11-22T19:22:30Z", "value": 40.42},
      {"series": "E5069", "time": "2024-11-22T19:37:30Z", "value": 40.16},
      {"series": "E5069", "time": "2024-11-22T19:52:30Z", "value": 39.29},
      {"series": "E5069", "time": "2024-11-22T20:22:30Z", "value": 39.03},
      {"series": "E5069", "time": "2024-11-22T20:52:30Z", "value": 39.03},
      {"series": "E5069", "time": "2024-11-22T21:07:30Z", "value": 39.55},
      {"series": "E5069", "time": "2024-11-22T21:22:30Z", "value": 40.25},
      {"series": "E5069", "time": "2024-11-22T21:37:30Z", "value": 40.34},
      {"series": "E5069", "time": "2024-11-22T21:52:30Z", "value": 39.90},
      {"series": "E5069", "time": "2024-11-22T22:07:30Z", "value": 40.16},
      {"series": "E5069", "time": "2024-11-22T22:22:30Z", "value": 39.64},
      {"series": "E5069", "time": "2024-11-22T22:37:30Z", "value": 40.25},
      {"series": "E5069", "time": "2024-11-22T22:52:30Z", "value": 39.55},
      {"series": "E5069", "time": "2024-11-22T23:07:30Z", "value": 39.12},
      {"series": "E5069", "time": "2024-11-22T23:22:30Z", "value": 39.99},
      {"series": "E5069", "time": "2024-11-22T23:45:00Z", "value": 39.38}
    ]
  },
  "layer": [
    {
      "data": {"name": "sun"},
      "mark": {"type": "rule", "color": "black", "strokeWidth": 1},
      "encoding": {
        "x": {"field": "time", "type": "temporal",
              "axis": {"orient": "top", "title": null, "labels": false, "domain": false, "grid": false,
                       "tickCount": 12, "tickColor": "black", "tickSize": -7}},
        "y": {"datum": 49.9, "type": "quantitative",
              "axis": {"orient": "right", "title": null, "labels": false, "domain": false, "grid": false,
                       "values": [20, 25, 30, 35, 40, 45, 50, 55], "tickColor": "black", "tickSize": -7}},
        "y2": {"datum": 20}
      }
    },
    {
      "data": {"name": "sun"},
      "mark": {"type": "text", "angle": 270, "align": "left", "baseline": "middle", "font": "DejaVu Sans Mono", "fontSize": 10, "color": "black"},
      "encoding": {
        "x": {"field": "time", "type": "temporal", "axis": null},
        "y": {"datum": 50.4, "type": "quantitative", "axis": null},
        "text": {"field": "event"}
      }
    },
    {
      "data": {"name": "obs"},
      "mark": {"type": "line", "strokeWidth": 1},
      "encoding": {
        "x": {"field": "time", "type": "temporal",
              "scale": {"type": "utc", "domain": [1732060800000, 1732320000000], "nice": false},
              "axis": {"orient": "bottom", "title": null, "domain": false, "grid": false,
                       "tickCount": 12, "tickColor": "black", "tickSize": -7,
                       "labelExpr": "[utcFormat(datum.value, '%m/%d'), utcFormat(datum.value, '%H:%M')]",
                       "labelOverlap": false, "labelFlush": false, "labelPadding": 12, "labelLineHeight": 13,
                       "labelFont": "DejaVu Sans Mono", "labelFontSize": 10, "labelColor": "black"}},
        "y": {"field": "value", "type": "quantitative",
              "scale": {"domain": [20, 55], "nice": false, "zero": false},
              "axis": {"orient": "left", "title": "degrees F", "domain": false, "grid": false,
                       "values": [20, 25, 30, 35, 40, 45, 50, 55], "tickColor": "black", "tickSize": -7,
                       "labelPadding": 15, "labelFont": "DejaVu Sans Mono", "labelFontSize": 10, "labelColor": "black",
                       "titleFont": "DejaVu Sans Mono", "titleFontSize": 10, "titleFontWeight": "normal", "titleColor": "black", "titlePadding": 10}},
        "color": {"field": "series", "type": "nominal", "sort": null,
                  "scale": {"domain": ["E5069 Analysis", "E5069"], "range": ["#ff0000", "#0080ff"]},
                  "legend": {"orient": "none", "legendX": 536, "legendY": -6, "title": null,
                             "symbolType": "stroke", "symbolSize": 784, "symbolStrokeWidth": 1,
                             "labelAlign": "right", "labelOffset": -36,
                             "labelFont": "DejaVu Sans Mono", "labelFontSize": 10, "labelColor": "black",
                             "rowPadding": -16, "padding": 0}}
      }
    }
  ],
  "resolve": {"axis": {"x": "independent", "y": "independent"}}
}
